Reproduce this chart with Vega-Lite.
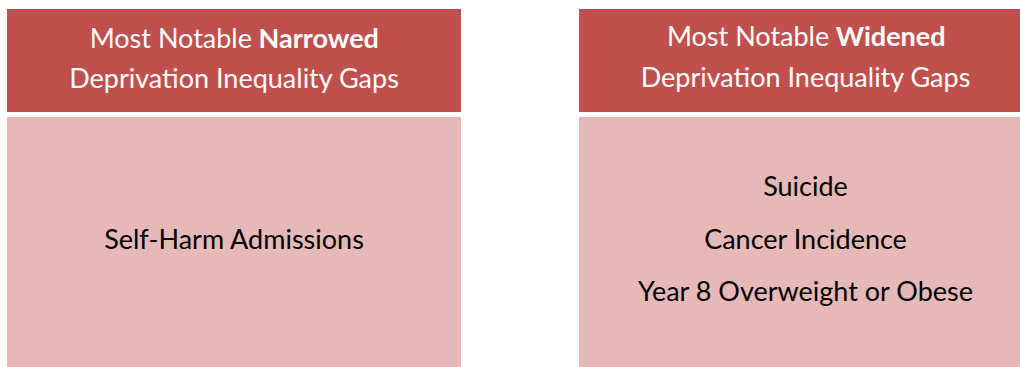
{
  "$schema": "https://vega.github.io/schema/vega-lite/v6.json",
  "padding": {"left": 7, "top": 9, "right": 0, "bottom": 0},
  "background": "white",
  "config": {"view": {"stroke": null}, "concat": {"spacing": 118}},
  "datasets": {
    "lines": [
      {"panel": "Narrowed", "section": "header", "line": 1, "text": "Most Notable", "bold": "Narrowed"},
      {"panel": "Narrowed", "section": "header", "line": 2, "text": "Deprivation Inequality Gaps", "bold": ""},
      {"panel": "Narrowed", "section": "body", "line": 2, "text": "Self-Harm Admissions", "bold": ""},
      {"panel": "Widened", "section": "header", "line": 1, "text": "Most Notable", "bold": "Widened"},
      {"panel": "Widened", "section": "header", "line": 2, "text": "Deprivation Inequality Gaps", "bold": ""},
      {"panel": "Widened", "section": "body", "line": 1, "text": "Suicide", "bold": ""},
      {"panel": "Widened", "section": "body", "line": 2, "text": "Cancer Incidence", "bold": ""},
      {"panel": "Widened", "section": "body", "line": 3, "text": "Year 8 Overweight or Obese", "bold": ""}
    ]
  },
  "hconcat": [
    {
      "vconcat": [
        {
          "width": 454, "height": 103,
          "data": {"name": "lines"},
          "transform": [{"filter": "datum.panel === 'Narrowed' && datum.section === 'header'"}],
          "encoding": {"x": {"field": "panel", "type": "nominal", "scale": {"paddingInner": 0, "paddingOuter": 0}, "axis": null}},
          "layer": [
            {"mark": {"type": "rect", "color": "#C0504D"}},
            {
              "transform": [{"filter": "datum.line === 2"}],
              "mark": {"type": "text", "font": "Lato", "fontSize": 27, "color": "white", "align": "center", "baseline": "alphabetic", "dy": 7.5},
              "encoding": {"y": {"field": "line", "type": "ordinal", "scale": {"type": "point", "padding": 0.76}, "axis": null}, "text": {"field": "text"}}
            },
            {
              "transform": [{"filter": "datum.line === 1"}],
              "mark": {"type": "text", "font": "Lato", "fontSize": 27, "color": "white", "align": "right", "baseline": "alphabetic", "dy": 7.5, "dx": 18},
              "encoding": {"y": {"field": "line", "type": "ordinal", "axis": null}, "text": {"field": "text"}}
            },
            {
              "transform": [{"filter": "datum.line === 1"}],
              "mark": {"type": "text", "font": "Lato", "fontSize": 27, "fontWeight": "bold", "color": "white", "align": "left", "baseline": "alphabetic", "dy": 7.5, "dx": 24.5},
              "encoding": {"y": {"field": "line", "type": "ordinal", "axis": null}, "text": {"field": "bold"}}
            }
          ]
        },
        {
          "width": 454, "height": 250,
          "data": {"name": "lines"},
          "transform": [{"filter": "datum.panel === 'Narrowed' && datum.section === 'body'"}],
          "encoding": {"x": {"field": "panel", "type": "nominal", "scale": {"paddingInner": 0, "paddingOuter": 0}, "axis": null}},
          "layer": [
            {"mark": {"type": "rect", "color": "#E6B8B7"}},
            {
              "mark": {"type": "text", "font": "Lato", "fontSize": 27, "color": "black", "align": "center", "baseline": "alphabetic", "dy": 6.5},
              "encoding": {"y": {"field": "line", "type": "ordinal", "scale": {"type": "point", "domain": [0, 1, 2, 3, 4], "padding": 0.4}, "axis": null}, "text": {"field": "text"}}
            }
          ]
        }
      ],
      "spacing": 5
    },
    {
      "vconcat": [
        {
          "width": 441, "height": 103,
          "data": {"name": "lines"},
          "transform": [{"filter": "datum.panel === 'Widened' && datum.section === 'header'"}],
          "encoding": {"x": {"field": "panel", "type": "nominal", "scale": {"paddingInner": 0, "paddingOuter": 0}, "axis": null}},
          "layer": [
            {"mark": {"type": "rect", "color": "#C0504D"}},
            {
              "transform": [{"filter": "datum.line === 2"}],
              "mark": {"type": "text", "font": "Lato", "fontSize": 27, "color": "white", "align": "center", "baseline": "alphabetic", "dy": 6, "dx": 6},
              "encoding": {"y": {"field": "line", "type": "ordinal", "scale": {"type": "point", "padding": 0.76}, "axis": null}, "text": {"field": "text"}}
            },
            {
              "transform": [{"filter": "datum.line === 1"}],
              "mark": {"type": "text", "font": "Lato", "fontSize": 27, "color": "white", "align": "right", "baseline": "alphabetic", "dy": 6, "dx": 29.75},
              "encoding": {"y": {"field": "line", "type": "ordinal", "axis": null}, "text": {"field": "text"}}
            },
            {
              "transform": [{"filter": "datum.line === 1"}],
              "mark": {"type": "text", "font": "Lato", "fontSize": 27, "fontWeight": "bold", "color": "white", "align": "left", "baseline": "alphabetic", "dy": 6, "dx": 36.25},
              "encoding": {"y": {"field": "line", "type": "ordinal", "axis": null}, "text": {"field": "bold"}}
            }
          ]
        },
        {
          "width": 441, "height": 250,
          "data": {"name": "lines"},
          "transform": [{"filter": "datum.panel === 'Widened' && datum.section === 'body'"}],
          "encoding": {"x": {"field": "panel", "type": "nominal", "scale": {"paddingInner": 0, "paddingOuter": 0}, "axis": null}},
          "layer": [
            {"mark": {"type": "rect", "color": "#E6B8B7"}},
            {
              "mark": {"type": "text", "font": "Lato", "fontSize": 27, "color": "black", "align": "center", "baseline": "alphabetic", "dy": 6.5, "dx": 6},
              "encoding": {"y": {"field": "line", "type": "ordinal", "scale": {"type": "point", "domain": [0, 1, 2, 3, 4], "padding": 0.4}, "axis": null}, "text": {"field": "text"}}
            }
          ]
        }
      ],
      "spacing": 5
    }
  ]
}
